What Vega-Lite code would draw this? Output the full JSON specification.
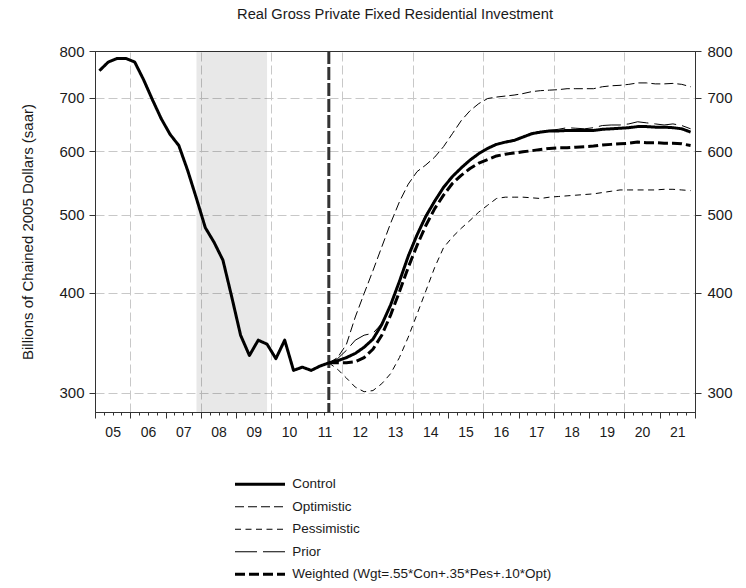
{
  "$schema": "https://vega.github.io/schema/vega-lite/v6.json",
  "width": 600,
  "height": 361,
  "autosize": {"type": "none"},
  "padding": {"left": 95, "top": 51, "right": 51, "bottom": 176},
  "background": "white",
  "title": {"text": "Real Gross Private Fixed Residential Investment", "frame": "group", "anchor": "middle", "fontSize": 14.7, "fontWeight": "normal", "font": "Liberation Sans", "color": "#1a1a1a", "offset": 22},
  "datasets": {
    "history": [
      {"date": 2005.125, "value": 756, "series": "Control"},
      {"date": 2005.375, "value": 775, "series": "Control"},
      {"date": 2005.625, "value": 783, "series": "Control"},
      {"date": 2005.875, "value": 783, "series": "Control"},
      {"date": 2006.125, "value": 775, "series": "Control"},
      {"date": 2006.375, "value": 737, "series": "Control"},
      {"date": 2006.625, "value": 696, "series": "Control"},
      {"date": 2006.875, "value": 659, "series": "Control"},
      {"date": 2007.125, "value": 630, "series": "Control"},
      {"date": 2007.375, "value": 610, "series": "Control"},
      {"date": 2007.625, "value": 568, "series": "Control"},
      {"date": 2007.875, "value": 524, "series": "Control"},
      {"date": 2008.125, "value": 482, "series": "Control"},
      {"date": 2008.375, "value": 462, "series": "Control"},
      {"date": 2008.625, "value": 439, "series": "Control"},
      {"date": 2008.875, "value": 395, "series": "Control"},
      {"date": 2009.125, "value": 354, "series": "Control"},
      {"date": 2009.375, "value": 334, "series": "Control"},
      {"date": 2009.625, "value": 349, "series": "Control"},
      {"date": 2009.875, "value": 345, "series": "Control"},
      {"date": 2010.125, "value": 331, "series": "Control"},
      {"date": 2010.375, "value": 349, "series": "Control"},
      {"date": 2010.625, "value": 320, "series": "Control"},
      {"date": 2010.875, "value": 323, "series": "Control"},
      {"date": 2011.125, "value": 320, "series": "Control"},
      {"date": 2011.375, "value": 324, "series": "Control"},
      {"date": 2011.625, "value": 327, "series": "Control"}
    ],
    "proj": [
      {"date": 2011.625, "value": 327, "series": "Control"},
      {"date": 2011.875, "value": 329, "series": "Control"},
      {"date": 2012.125, "value": 332, "series": "Control"},
      {"date": 2012.375, "value": 336, "series": "Control"},
      {"date": 2012.625, "value": 342, "series": "Control"},
      {"date": 2012.875, "value": 350, "series": "Control"},
      {"date": 2013.125, "value": 365, "series": "Control"},
      {"date": 2013.375, "value": 386, "series": "Control"},
      {"date": 2013.625, "value": 413, "series": "Control"},
      {"date": 2013.875, "value": 444, "series": "Control"},
      {"date": 2014.125, "value": 472, "series": "Control"},
      {"date": 2014.375, "value": 498, "series": "Control"},
      {"date": 2014.625, "value": 520, "series": "Control"},
      {"date": 2014.875, "value": 541, "series": "Control"},
      {"date": 2015.125, "value": 558, "series": "Control"},
      {"date": 2015.375, "value": 572, "series": "Control"},
      {"date": 2015.625, "value": 585, "series": "Control"},
      {"date": 2015.875, "value": 596, "series": "Control"},
      {"date": 2016.125, "value": 605, "series": "Control"},
      {"date": 2016.375, "value": 612, "series": "Control"},
      {"date": 2016.625, "value": 616, "series": "Control"},
      {"date": 2016.875, "value": 619, "series": "Control"},
      {"date": 2017.125, "value": 625, "series": "Control"},
      {"date": 2017.375, "value": 631, "series": "Control"},
      {"date": 2017.625, "value": 634, "series": "Control"},
      {"date": 2017.875, "value": 636, "series": "Control"},
      {"date": 2018.125, "value": 636, "series": "Control"},
      {"date": 2018.375, "value": 637, "series": "Control"},
      {"date": 2018.625, "value": 637, "series": "Control"},
      {"date": 2018.875, "value": 637, "series": "Control"},
      {"date": 2019.125, "value": 637, "series": "Control"},
      {"date": 2019.375, "value": 639, "series": "Control"},
      {"date": 2019.625, "value": 640, "series": "Control"},
      {"date": 2019.875, "value": 641, "series": "Control"},
      {"date": 2020.125, "value": 642, "series": "Control"},
      {"date": 2020.375, "value": 644, "series": "Control"},
      {"date": 2020.625, "value": 644, "series": "Control"},
      {"date": 2020.875, "value": 643, "series": "Control"},
      {"date": 2021.125, "value": 643, "series": "Control"},
      {"date": 2021.375, "value": 642, "series": "Control"},
      {"date": 2021.625, "value": 640, "series": "Control"},
      {"date": 2021.875, "value": 634, "series": "Control"},
      {"date": 2011.625, "value": 327, "series": "Optimistic"},
      {"date": 2011.875, "value": 332, "series": "Optimistic"},
      {"date": 2012.125, "value": 345, "series": "Optimistic"},
      {"date": 2012.375, "value": 373, "series": "Optimistic"},
      {"date": 2012.625, "value": 399, "series": "Optimistic"},
      {"date": 2012.875, "value": 426, "series": "Optimistic"},
      {"date": 2013.125, "value": 456, "series": "Optimistic"},
      {"date": 2013.375, "value": 488, "series": "Optimistic"},
      {"date": 2013.625, "value": 519, "series": "Optimistic"},
      {"date": 2013.875, "value": 546, "series": "Optimistic"},
      {"date": 2014.125, "value": 566, "series": "Optimistic"},
      {"date": 2014.375, "value": 577, "series": "Optimistic"},
      {"date": 2014.625, "value": 590, "series": "Optimistic"},
      {"date": 2014.875, "value": 608, "series": "Optimistic"},
      {"date": 2015.125, "value": 631, "series": "Optimistic"},
      {"date": 2015.375, "value": 655, "series": "Optimistic"},
      {"date": 2015.625, "value": 674, "series": "Optimistic"},
      {"date": 2015.875, "value": 688, "series": "Optimistic"},
      {"date": 2016.125, "value": 698, "series": "Optimistic"},
      {"date": 2016.375, "value": 701, "series": "Optimistic"},
      {"date": 2016.625, "value": 703, "series": "Optimistic"},
      {"date": 2016.875, "value": 705, "series": "Optimistic"},
      {"date": 2017.125, "value": 708, "series": "Optimistic"},
      {"date": 2017.375, "value": 712, "series": "Optimistic"},
      {"date": 2017.625, "value": 714, "series": "Optimistic"},
      {"date": 2017.875, "value": 715, "series": "Optimistic"},
      {"date": 2018.125, "value": 716, "series": "Optimistic"},
      {"date": 2018.375, "value": 718, "series": "Optimistic"},
      {"date": 2018.625, "value": 718, "series": "Optimistic"},
      {"date": 2018.875, "value": 718, "series": "Optimistic"},
      {"date": 2019.125, "value": 718, "series": "Optimistic"},
      {"date": 2019.375, "value": 722, "series": "Optimistic"},
      {"date": 2019.625, "value": 724, "series": "Optimistic"},
      {"date": 2019.875, "value": 725, "series": "Optimistic"},
      {"date": 2020.125, "value": 727, "series": "Optimistic"},
      {"date": 2020.375, "value": 730, "series": "Optimistic"},
      {"date": 2020.625, "value": 730, "series": "Optimistic"},
      {"date": 2020.875, "value": 728, "series": "Optimistic"},
      {"date": 2021.125, "value": 728, "series": "Optimistic"},
      {"date": 2021.375, "value": 729, "series": "Optimistic"},
      {"date": 2021.625, "value": 727, "series": "Optimistic"},
      {"date": 2021.875, "value": 722, "series": "Optimistic"},
      {"date": 2011.625, "value": 327, "series": "Pessimistic"},
      {"date": 2011.875, "value": 321, "series": "Pessimistic"},
      {"date": 2012.125, "value": 313, "series": "Pessimistic"},
      {"date": 2012.375, "value": 305, "series": "Pessimistic"},
      {"date": 2012.625, "value": 301, "series": "Pessimistic"},
      {"date": 2012.875, "value": 302, "series": "Pessimistic"},
      {"date": 2013.125, "value": 308, "series": "Pessimistic"},
      {"date": 2013.375, "value": 317, "series": "Pessimistic"},
      {"date": 2013.625, "value": 332, "series": "Pessimistic"},
      {"date": 2013.875, "value": 352, "series": "Pessimistic"},
      {"date": 2014.125, "value": 376, "series": "Pessimistic"},
      {"date": 2014.375, "value": 402, "series": "Pessimistic"},
      {"date": 2014.625, "value": 430, "series": "Pessimistic"},
      {"date": 2014.875, "value": 455, "series": "Pessimistic"},
      {"date": 2015.125, "value": 469, "series": "Pessimistic"},
      {"date": 2015.375, "value": 481, "series": "Pessimistic"},
      {"date": 2015.625, "value": 492, "series": "Pessimistic"},
      {"date": 2015.875, "value": 504, "series": "Pessimistic"},
      {"date": 2016.125, "value": 514, "series": "Pessimistic"},
      {"date": 2016.375, "value": 524, "series": "Pessimistic"},
      {"date": 2016.625, "value": 526, "series": "Pessimistic"},
      {"date": 2016.875, "value": 526, "series": "Pessimistic"},
      {"date": 2017.125, "value": 526, "series": "Pessimistic"},
      {"date": 2017.375, "value": 525, "series": "Pessimistic"},
      {"date": 2017.625, "value": 524, "series": "Pessimistic"},
      {"date": 2017.875, "value": 526, "series": "Pessimistic"},
      {"date": 2018.125, "value": 527, "series": "Pessimistic"},
      {"date": 2018.375, "value": 528, "series": "Pessimistic"},
      {"date": 2018.625, "value": 529, "series": "Pessimistic"},
      {"date": 2018.875, "value": 530, "series": "Pessimistic"},
      {"date": 2019.125, "value": 531, "series": "Pessimistic"},
      {"date": 2019.375, "value": 533, "series": "Pessimistic"},
      {"date": 2019.625, "value": 535, "series": "Pessimistic"},
      {"date": 2019.875, "value": 537, "series": "Pessimistic"},
      {"date": 2020.125, "value": 537, "series": "Pessimistic"},
      {"date": 2020.375, "value": 537, "series": "Pessimistic"},
      {"date": 2020.625, "value": 537, "series": "Pessimistic"},
      {"date": 2020.875, "value": 537, "series": "Pessimistic"},
      {"date": 2021.125, "value": 538, "series": "Pessimistic"},
      {"date": 2021.375, "value": 538, "series": "Pessimistic"},
      {"date": 2021.625, "value": 537, "series": "Pessimistic"},
      {"date": 2021.875, "value": 536, "series": "Pessimistic"},
      {"date": 2011.625, "value": 327, "series": "Prior"},
      {"date": 2011.875, "value": 331, "series": "Prior"},
      {"date": 2012.125, "value": 339, "series": "Prior"},
      {"date": 2012.375, "value": 349, "series": "Prior"},
      {"date": 2012.625, "value": 354, "series": "Prior"},
      {"date": 2012.875, "value": 356, "series": "Prior"},
      {"date": 2013.125, "value": 366, "series": "Prior"},
      {"date": 2013.375, "value": 387, "series": "Prior"},
      {"date": 2013.625, "value": 414, "series": "Prior"},
      {"date": 2013.875, "value": 446, "series": "Prior"},
      {"date": 2014.125, "value": 474, "series": "Prior"},
      {"date": 2014.375, "value": 500, "series": "Prior"},
      {"date": 2014.625, "value": 522, "series": "Prior"},
      {"date": 2014.875, "value": 542, "series": "Prior"},
      {"date": 2015.125, "value": 559, "series": "Prior"},
      {"date": 2015.375, "value": 573, "series": "Prior"},
      {"date": 2015.625, "value": 586, "series": "Prior"},
      {"date": 2015.875, "value": 597, "series": "Prior"},
      {"date": 2016.125, "value": 606, "series": "Prior"},
      {"date": 2016.375, "value": 613, "series": "Prior"},
      {"date": 2016.625, "value": 617, "series": "Prior"},
      {"date": 2016.875, "value": 620, "series": "Prior"},
      {"date": 2017.125, "value": 626, "series": "Prior"},
      {"date": 2017.375, "value": 632, "series": "Prior"},
      {"date": 2017.625, "value": 635, "series": "Prior"},
      {"date": 2017.875, "value": 637, "series": "Prior"},
      {"date": 2018.125, "value": 639, "series": "Prior"},
      {"date": 2018.375, "value": 642, "series": "Prior"},
      {"date": 2018.625, "value": 641, "series": "Prior"},
      {"date": 2018.875, "value": 640, "series": "Prior"},
      {"date": 2019.125, "value": 642, "series": "Prior"},
      {"date": 2019.375, "value": 646, "series": "Prior"},
      {"date": 2019.625, "value": 647, "series": "Prior"},
      {"date": 2019.875, "value": 647, "series": "Prior"},
      {"date": 2020.125, "value": 649, "series": "Prior"},
      {"date": 2020.375, "value": 653, "series": "Prior"},
      {"date": 2020.625, "value": 651, "series": "Prior"},
      {"date": 2020.875, "value": 649, "series": "Prior"},
      {"date": 2021.125, "value": 647, "series": "Prior"},
      {"date": 2021.375, "value": 649, "series": "Prior"},
      {"date": 2021.625, "value": 646, "series": "Prior"},
      {"date": 2021.875, "value": 640, "series": "Prior"},
      {"date": 2011.625, "value": 327, "series": "Weighted"},
      {"date": 2011.875, "value": 327, "series": "Weighted"},
      {"date": 2012.125, "value": 327, "series": "Weighted"},
      {"date": 2012.375, "value": 328, "series": "Weighted"},
      {"date": 2012.625, "value": 332, "series": "Weighted"},
      {"date": 2012.875, "value": 340, "series": "Weighted"},
      {"date": 2013.125, "value": 354, "series": "Weighted"},
      {"date": 2013.375, "value": 375, "series": "Weighted"},
      {"date": 2013.625, "value": 401, "series": "Weighted"},
      {"date": 2013.875, "value": 430, "series": "Weighted"},
      {"date": 2014.125, "value": 458, "series": "Weighted"},
      {"date": 2014.375, "value": 485, "series": "Weighted"},
      {"date": 2014.625, "value": 509, "series": "Weighted"},
      {"date": 2014.875, "value": 529, "series": "Weighted"},
      {"date": 2015.125, "value": 547, "series": "Weighted"},
      {"date": 2015.375, "value": 560, "series": "Weighted"},
      {"date": 2015.625, "value": 571, "series": "Weighted"},
      {"date": 2015.875, "value": 580, "series": "Weighted"},
      {"date": 2016.125, "value": 586, "series": "Weighted"},
      {"date": 2016.375, "value": 592, "series": "Weighted"},
      {"date": 2016.625, "value": 595, "series": "Weighted"},
      {"date": 2016.875, "value": 597, "series": "Weighted"},
      {"date": 2017.125, "value": 599, "series": "Weighted"},
      {"date": 2017.375, "value": 601, "series": "Weighted"},
      {"date": 2017.625, "value": 603, "series": "Weighted"},
      {"date": 2017.875, "value": 605, "series": "Weighted"},
      {"date": 2018.125, "value": 606, "series": "Weighted"},
      {"date": 2018.375, "value": 606, "series": "Weighted"},
      {"date": 2018.625, "value": 607, "series": "Weighted"},
      {"date": 2018.875, "value": 608, "series": "Weighted"},
      {"date": 2019.125, "value": 609, "series": "Weighted"},
      {"date": 2019.375, "value": 611, "series": "Weighted"},
      {"date": 2019.625, "value": 612, "series": "Weighted"},
      {"date": 2019.875, "value": 613, "series": "Weighted"},
      {"date": 2020.125, "value": 614, "series": "Weighted"},
      {"date": 2020.375, "value": 616, "series": "Weighted"},
      {"date": 2020.625, "value": 615, "series": "Weighted"},
      {"date": 2020.875, "value": 615, "series": "Weighted"},
      {"date": 2021.125, "value": 614, "series": "Weighted"},
      {"date": 2021.375, "value": 614, "series": "Weighted"},
      {"date": 2021.625, "value": 613, "series": "Weighted"},
      {"date": 2021.875, "value": 610, "series": "Weighted"}
    ]
  },
  "layer": [
    {
      "data": {"values": [{"start": 2007.875, "end": 2009.875}]},
      "mark": {"type": "rect", "color": "black", "opacity": 0.09},
      "encoding": {
        "x": {"field": "start", "type": "quantitative", "scale": {"domain": [2005, 2022], "nice": false, "zero": false},
          "axis": {"orient": "bottom", "values": [2006, 2008, 2010, 2012, 2014, 2016, 2018, 2020], "grid": true, "ticks": false, "labels": false, "domain": false, "title": null, "gridColor": "#c8c8c8", "gridDash": [9, 4], "gridWidth": 1}},
        "x2": {"field": "end"}
      }
    },
    {
      "data": {"values": [{"date": 2011.625}]},
      "mark": {"type": "rule", "color": "#333333", "strokeWidth": 3, "strokeDash": [13, 3]},
      "encoding": {
        "x": {"field": "date", "type": "quantitative", "scale": {"domain": [2005, 2022], "nice": false, "zero": false},
          "axis": {"orient": "bottom", "values": [2005, 2006, 2007, 2008, 2009, 2010, 2011, 2012, 2013, 2014, 2015, 2016, 2017, 2018, 2019, 2020, 2021, 2022], "tickSize": 6, "labels": false, "domain": false, "grid": false, "title": null}}
      }
    },
    {
      "data": {"name": "proj"},
      "mark": {"type": "line", "color": "black", "strokeJoin": "round"},
      "encoding": {
        "x": {"field": "date", "type": "quantitative", "scale": {"domain": [2005, 2022], "nice": false, "zero": false},
          "axis": {"orient": "bottom", "values": [2005.5, 2006.5, 2007.5, 2008.5, 2009.5, 2010.5, 2011.5, 2012.5, 2013.5, 2014.5, 2015.5, 2016.5, 2017.5, 2018.5, 2019.5, 2020.5, 2021.5], "ticks": false, "tickSize": 0, "labelExpr": "slice(toString(floor(datum.value)), 2)", "labelPadding": 13, "labelFontSize": 14, "labelFlush": false, "domain": true, "grid": false, "title": null}},
        "y": {"field": "value", "type": "quantitative", "scale": {"type": "log", "domain": [284, 800], "nice": false},
          "axis": {"orient": "left", "values": [300, 400, 500, 600, 700, 800], "format": "d", "grid": true, "gridColor": {"condition": {"test": "datum.value >= 800", "value": "#333333"}, "value": "#c8c8c8"}, "gridDash": {"condition": {"test": "datum.value >= 800", "value": [1, 0]}, "value": [9, 4]}, "gridWidth": 1, "tickSize": 6, "labelPadding": 5, "labelFontSize": 15, "labelFlush": false, "title": "Billions of Chained 2005 Dollars (saar)", "titleFontSize": 15, "titleFontWeight": "normal", "titleX": -68, "titleY": 180.5, "titleAngle": 270, "titleBaseline": "middle", "titleAlign": "center"}},
        "strokeDash": {"field": "series", "type": "nominal",
          "scale": {"domain": ["Control", "Optimistic", "Pessimistic", "Prior", "Weighted"], "range": [[1, 0], [9, 4], [6, 4.5], [22, 6], [10, 4]]},
          "legend": {"orient": "none", "legendX": 140, "legendY": 426.5, "title": null, "direction": "vertical", "symbolType": "M-25,0H25", "symbolSize": 4, "symbolOffset": 18.25, "symbolStrokeColor": "black", "symbolFillColor": "transparent", "labelFontSize": 13.5, "labelOffset": 25.5, "labelColor": "#1a1a1a", "rowPadding": 7.5, "padding": 0, "labelLimit": 400, "labelExpr": "datum.label == 'Weighted' ? 'Weighted (Wgt=.55*Con+.35*Pes+.10*Opt)' : datum.label"}},
        "strokeWidth": {"field": "series", "type": "nominal",
          "scale": {"type": "ordinal", "domain": ["Control", "Optimistic", "Pessimistic", "Prior", "Weighted"], "range": [3, 1, 1, 1, 3]},
          "legend": {"orient": "none", "legendX": 140, "legendY": 426.5, "title": null, "direction": "vertical", "symbolType": "M-25,0H25", "symbolSize": 4, "symbolOffset": 18.25, "symbolStrokeColor": "black", "symbolFillColor": "transparent", "labelFontSize": 13.5, "labelOffset": 25.5, "labelColor": "#1a1a1a", "rowPadding": 7.5, "padding": 0, "labelLimit": 400, "labelExpr": "datum.label == 'Weighted' ? 'Weighted (Wgt=.55*Con+.35*Pes+.10*Opt)' : datum.label"}}
      }
    },
    {
      "data": {"name": "history"},
      "mark": {"type": "line", "color": "black", "strokeJoin": "round"},
      "encoding": {
        "x": {"field": "date", "type": "quantitative", "scale": {"domain": [2005, 2022], "nice": false, "zero": false},
          "axis": {"orient": "bottom", "values": [2005.25, 2005.5, 2005.75, 2006.25, 2006.5, 2006.75, 2007.25, 2007.5, 2007.75, 2008.25, 2008.5, 2008.75, 2009.25, 2009.5, 2009.75, 2010.25, 2010.5, 2010.75, 2011.25, 2011.5, 2011.75, 2012.25, 2012.5, 2012.75, 2013.25, 2013.5, 2013.75, 2014.25, 2014.5, 2014.75, 2015.25, 2015.5, 2015.75, 2016.25, 2016.5, 2016.75, 2017.25, 2017.5, 2017.75, 2018.25, 2018.5, 2018.75, 2019.25, 2019.5, 2019.75, 2020.25, 2020.5, 2020.75, 2021.25, 2021.5, 2021.75], "tickSize": 3, "labels": false, "domain": false, "grid": false, "title": null}},
        "y": {"field": "value", "type": "quantitative", "scale": {"type": "log", "domain": [284, 800], "nice": false},
          "axis": {"orient": "right", "values": [300, 400, 500, 600, 700, 800], "format": "d", "grid": false, "tickSize": 6, "labelPadding": 6, "labelFontSize": 15, "labelFlush": false, "title": null}},
        "strokeDash": {"field": "series", "type": "nominal",
          "scale": {"domain": ["Control", "Optimistic", "Pessimistic", "Prior", "Weighted"], "range": [[1, 0], [9, 4], [6, 4.5], [22, 6], [10, 4]]},
          "legend": {"orient": "none", "legendX": 140, "legendY": 426.5, "title": null, "direction": "vertical", "symbolType": "M-25,0H25", "symbolSize": 4, "symbolOffset": 18.25, "symbolStrokeColor": "black", "symbolFillColor": "transparent", "labelFontSize": 13.5, "labelOffset": 25.5, "labelColor": "#1a1a1a", "rowPadding": 7.5, "padding": 0, "labelLimit": 400, "labelExpr": "datum.label == 'Weighted' ? 'Weighted (Wgt=.55*Con+.35*Pes+.10*Opt)' : datum.label"}},
        "strokeWidth": {"field": "series", "type": "nominal",
          "scale": {"type": "ordinal", "domain": ["Control", "Optimistic", "Pessimistic", "Prior", "Weighted"], "range": [3, 1, 1, 1, 3]},
          "legend": {"orient": "none", "legendX": 140, "legendY": 426.5, "title": null, "direction": "vertical", "symbolType": "M-25,0H25", "symbolSize": 4, "symbolOffset": 18.25, "symbolStrokeColor": "black", "symbolFillColor": "transparent", "labelFontSize": 13.5, "labelOffset": 25.5, "labelColor": "#1a1a1a", "rowPadding": 7.5, "padding": 0, "labelLimit": 400, "labelExpr": "datum.label == 'Weighted' ? 'Weighted (Wgt=.55*Con+.35*Pes+.10*Opt)' : datum.label"}}
      }
    }
  ],
  "resolve": {"axis": {"x": "independent", "y": "independent"}},
  "config": {
    "font": "Liberation Sans",
    "view": {"stroke": "#333333", "strokeWidth": 1},
    "axis": {"labelColor": "#1a1a1a", "titleColor": "#1a1a1a", "tickColor": "#333333", "domainColor": "#333333", "labelFont": "Liberation Sans", "titleFont": "Liberation Sans"},
    "legend": {"labelFont": "Liberation Sans"}
  }
}
